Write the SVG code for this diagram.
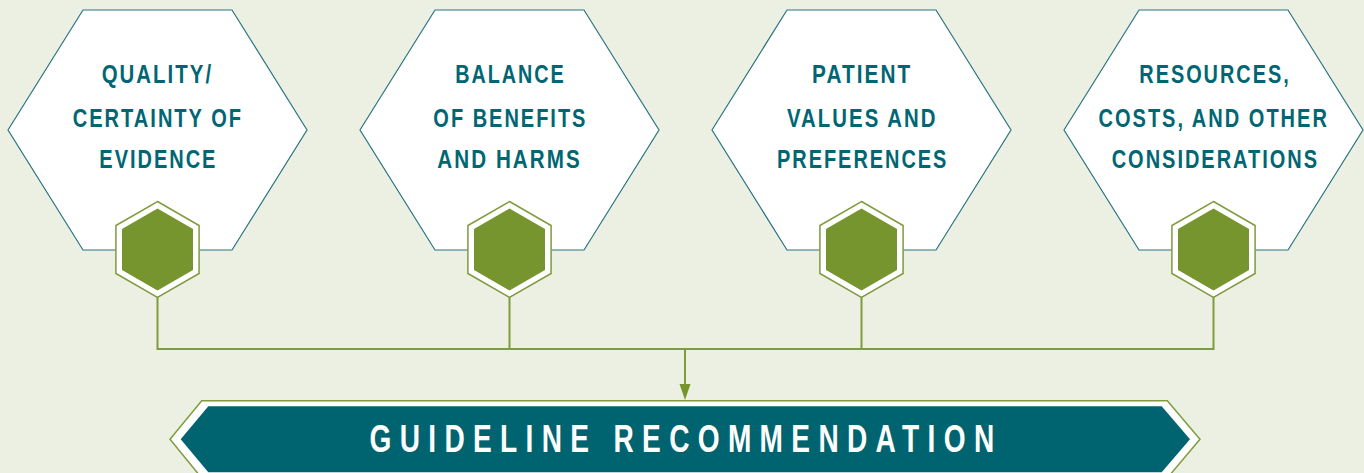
<svg xmlns="http://www.w3.org/2000/svg" width="1364" height="473" viewBox="0 0 1364 473">
<style>
.hex{fill:#ffffff;stroke:#2a7482;stroke-width:1.2}
.lbl{font-family:"Liberation Sans",Arial,sans-serif;font-weight:bold;font-size:25px;fill:#006673;text-anchor:middle;letter-spacing:2.5px}
.conn{stroke:#7d9c3c;stroke-width:2;fill:none}
.ban{font-family:"Liberation Sans",Arial,sans-serif;font-weight:bold;font-size:39px;fill:#ffffff;text-anchor:middle;letter-spacing:11.6px}
</style>
<defs>
<g id="badge">
<polygon points="0,-48 41.6,-24 41.6,24 0,48 -41.6,24 -41.6,-24" fill="#ffffff" stroke="#7d9c3c" stroke-width="1.5"/>
<polygon points="0,-41 35.5,-20.5 35.5,20.5 0,41 -35.5,20.5 -35.5,-20.5" fill="#76952e"/>
</g>
<g id="bighex">
<polygon class="hex" points="-149.5,0 -74.5,-120 74.5,-120 149.5,0 74.5,120 -74.5,120"/>
</g>
</defs>
<rect width="1364" height="473" fill="#ecf0e3"/>
<g id="connectors">
<path class="conn" d="M157.5,297 V349 M509.5,297 V349 M861.5,297 V349 M1213.5,297 V349 M156.5,349 H1214.5"/>
<path class="conn" d="M685,349 V386"/>
<polygon points="679.5,384 690.5,384 685,400" fill="#76952e"/>
</g>
<g id="node1">
<use href="#bighex" x="157.5" y="130"/>
<text class="lbl" x="157.4" y="83" textLength="111.4" lengthAdjust="spacingAndGlyphs">QUALITY/</text>
<text class="lbl" x="157.9" y="126.5" textLength="170.4" lengthAdjust="spacingAndGlyphs">CERTAINTY OF</text>
<text class="lbl" x="158.4" y="168" textLength="118.1" lengthAdjust="spacingAndGlyphs">EVIDENCE</text>
<use href="#badge" x="157.5" y="249.5"/>
</g>
<g id="node2">
<use href="#bighex" x="509.5" y="130"/>
<text class="lbl" x="510.4" y="83" textLength="110.4" lengthAdjust="spacingAndGlyphs">BALANCE</text>
<text class="lbl" x="510.4" y="126.5" textLength="154.1" lengthAdjust="spacingAndGlyphs">OF BENEFITS</text>
<text class="lbl" x="509.5" y="168" textLength="144.4" lengthAdjust="spacingAndGlyphs">AND HARMS</text>
<use href="#badge" x="509.5" y="249.5"/>
</g>
<g id="node3">
<use href="#bighex" x="861.5" y="130"/>
<text class="lbl" x="862.2" y="83" textLength="100.4" lengthAdjust="spacingAndGlyphs">PATIENT</text>
<text class="lbl" x="862.2" y="126.5" textLength="150.4" lengthAdjust="spacingAndGlyphs">VALUES AND</text>
<text class="lbl" x="862.7" y="168" textLength="171.4" lengthAdjust="spacingAndGlyphs">PREFERENCES</text>
<use href="#badge" x="861.5" y="249.5"/>
</g>
<g id="node4">
<use href="#bighex" x="1213.5" y="130"/>
<text class="lbl" x="1215" y="83" textLength="151.4" lengthAdjust="spacingAndGlyphs">RESOURCES,</text>
<text class="lbl" x="1213.7" y="126.5" textLength="230.4" lengthAdjust="spacingAndGlyphs">COSTS, AND OTHER</text>
<text class="lbl" x="1215.4" y="168" textLength="207.4" lengthAdjust="spacingAndGlyphs">CONSIDERATIONS</text>
<use href="#badge" x="1213.5" y="249.5"/>
</g>
<g id="recommendation">
<polygon points="201.7,400.7 1167.3,400.7 1200,439.3 1167.3,478 201.7,478 170,439.3" fill="#ffffff" stroke="#7d9c3c" stroke-width="1.5"/>
<polygon points="208.3,406.3 1161.7,406.3 1190,439.3 1161.7,472.3 208.3,472.3 180.7,439.3" fill="#006470"/>
<text class="ban" x="686" y="451.7" textLength="633" lengthAdjust="spacingAndGlyphs">GUIDELINE RECOMMENDATION</text>
</g>
</svg>
